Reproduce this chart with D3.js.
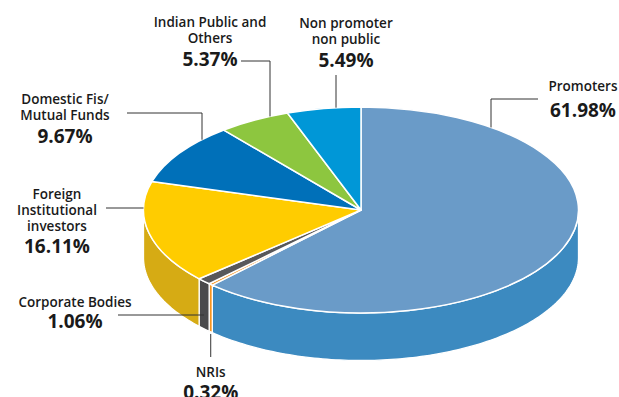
<!DOCTYPE html>
<html>
<head>
<meta charset="utf-8">
<script src="https://cdn.jsdelivr.net/npm/d3@7"></script>
<style>
  body { margin: 0; background: #fff; }
  text { font-family: "Open Sans", sans-serif; fill: #1a1a1a; }
  .name { font-size: 13.5px; font-weight: 600; }
  .pct { font-size: 19px; font-weight: 700; }
</style>
</head>
<body>
<div id="chart"></div>
<script>
// shareholding pattern, clockwise from 12 o'clock
var categories = ["Promoters", "NRIs", "Corporate Bodies", "Foreign Institutional investors",
                  "Domestic Fis/ Mutual Funds", "Indian Public and Others", "Non promoter non public"];
var shares = [61.98, 0.32, 1.06, 16.11, 9.67, 5.37, 5.49];
var labelLines = [["Promoters"], ["NRIs"], ["Corporate Bodies"], ["Foreign", "Institutional", "investors"],
                  ["Domestic Fis/", "Mutual Funds"], ["Indian Public and", "Others"], ["Non promoter", "non public"]];
var topColors = ["#6a9bc8", "#f7941d", "#58585a", "#ffcc00", "#0070b9", "#8dc63f", "#0097d7"];
var sideColors = ["#3c8ac0", "#f7941d", "#4a4a4c", "#d6ab14", "#005f9e", "#74a832", "#0080b8"];

var width = 619, height = 397;
var cx = 361, cy = 210, rx = 217.5, ry = 103, depth = 47.5;

// label placement: x = centre, y = first baseline, p = percent baseline
var labelPos = [
  {x: 583, y: 91, p: 117},
  {x: 0, y: 376.5, p: 399},
  {x: 75, y: 306.5, p: 328},
  {x: 57, y: 199, p: 253},
  {x: 65, y: 104, p: 142.5},
  {x: 210, y: 27, p: 66},
  {x: 346, y: 28, p: 67}
];
var lineGap = 16.2;

var svg = d3.select("#chart").append("svg")
    .attr("width", width)
    .attr("height", height);

var arcs = d3.pie().sort(null).value(function(d) { return d; })(shares);

function proj(a, dz) {
  return [cx + rx * Math.sin(a), cy - ry * Math.cos(a) + dz];
}
function topY(x) {
  var t = (x - cx) / rx;
  return cy - ry * Math.sqrt(1 - t * t);
}
function leftX(y) {
  var t = (y - cy) / ry;
  return cx - rx * Math.sqrt(1 - t * t);
}

// side walls (front half only)
var line = d3.line();
svg.append("g").selectAll("path")
    .data(arcs)
  .enter().append("path")
    .attr("d", function(d) {
      var a0 = Math.max(d.startAngle, Math.PI / 2),
          a1 = Math.min(d.endAngle, 3 * Math.PI / 2);
      if (a1 <= a0) return null;
      var n = Math.max(2, Math.ceil((a1 - a0) / 0.02)), pts = [], i;
      for (i = 0; i <= n; i++) pts.push(proj(a0 + (a1 - a0) * i / n, 0));
      for (i = n; i >= 0; i--) pts.push(proj(a0 + (a1 - a0) * i / n, depth));
      return line(pts) + "Z";
    })
    .attr("fill", function(d, i) { return sideColors[i]; })
    .attr("stroke", "#fff")
    .attr("stroke-width", 1.3)
    .attr("stroke-linejoin", "round");

// top face
var arc = d3.arc().innerRadius(0).outerRadius(rx);
svg.append("g")
    .attr("transform", "translate(" + cx + "," + cy + ") scale(1," + (ry / rx) + ")")
  .selectAll("path")
    .data(arcs)
  .enter().append("path")
    .attr("d", arc)
    .attr("fill", function(d, i) { return topColors[i]; })
    .attr("stroke", "#fff")
    .attr("stroke-width", 1.5)
    .attr("vector-effect", "non-scaling-stroke")
    .attr("stroke-linejoin", "round");

// leader lines
function midAngle(d) { return (d.startAngle + d.endAngle) / 2; }
var nriX = proj(midAngle(arcs[1]), 0)[0];
var corpX = proj(midAngle(arcs[2]), 0)[0];
labelPos[1].x = nriX;
var leaders = [
  [[538, 99], [491, 99], [491, topY(491)]],
  [[nriX, proj(midAngle(arcs[1]), depth)[1] + 2], [nriX, 357]],
  [[118, 315], [corpX, 315]],
  [[106, 208], [leftX(208), 208]],
  [[127, 113], [202, 113], [202, topY(202)]],
  [[241, 61], [270, 61], [270, topY(270)]],
  [[336, 75], [336, topY(336)]]
];
svg.append("g").selectAll("path")
    .data(leaders)
  .enter().append("path")
    .attr("d", function(d) { return line(d); })
    .attr("fill", "none")
    .attr("stroke", "#333")
    .attr("stroke-width", 1);

// labels
var labels = svg.append("g").selectAll("g")
    .data(categories)
  .enter().append("g");
labels.each(function(c, i) {
  var g = d3.select(this), pos = labelPos[i];
  labelLines[i].forEach(function(t, k) {
    g.append("text")
        .attr("class", "name")
        .attr("x", pos.x)
        .attr("y", pos.y + k * lineGap)
        .attr("text-anchor", "middle")
        .text(t);
  });
  g.append("text")
      .attr("class", "pct")
      .attr("x", pos.x)
      .attr("y", pos.p)
      .attr("text-anchor", "middle")
      .text(shares[i].toFixed(2) + "%");
});
</script>
</body>
</html>
